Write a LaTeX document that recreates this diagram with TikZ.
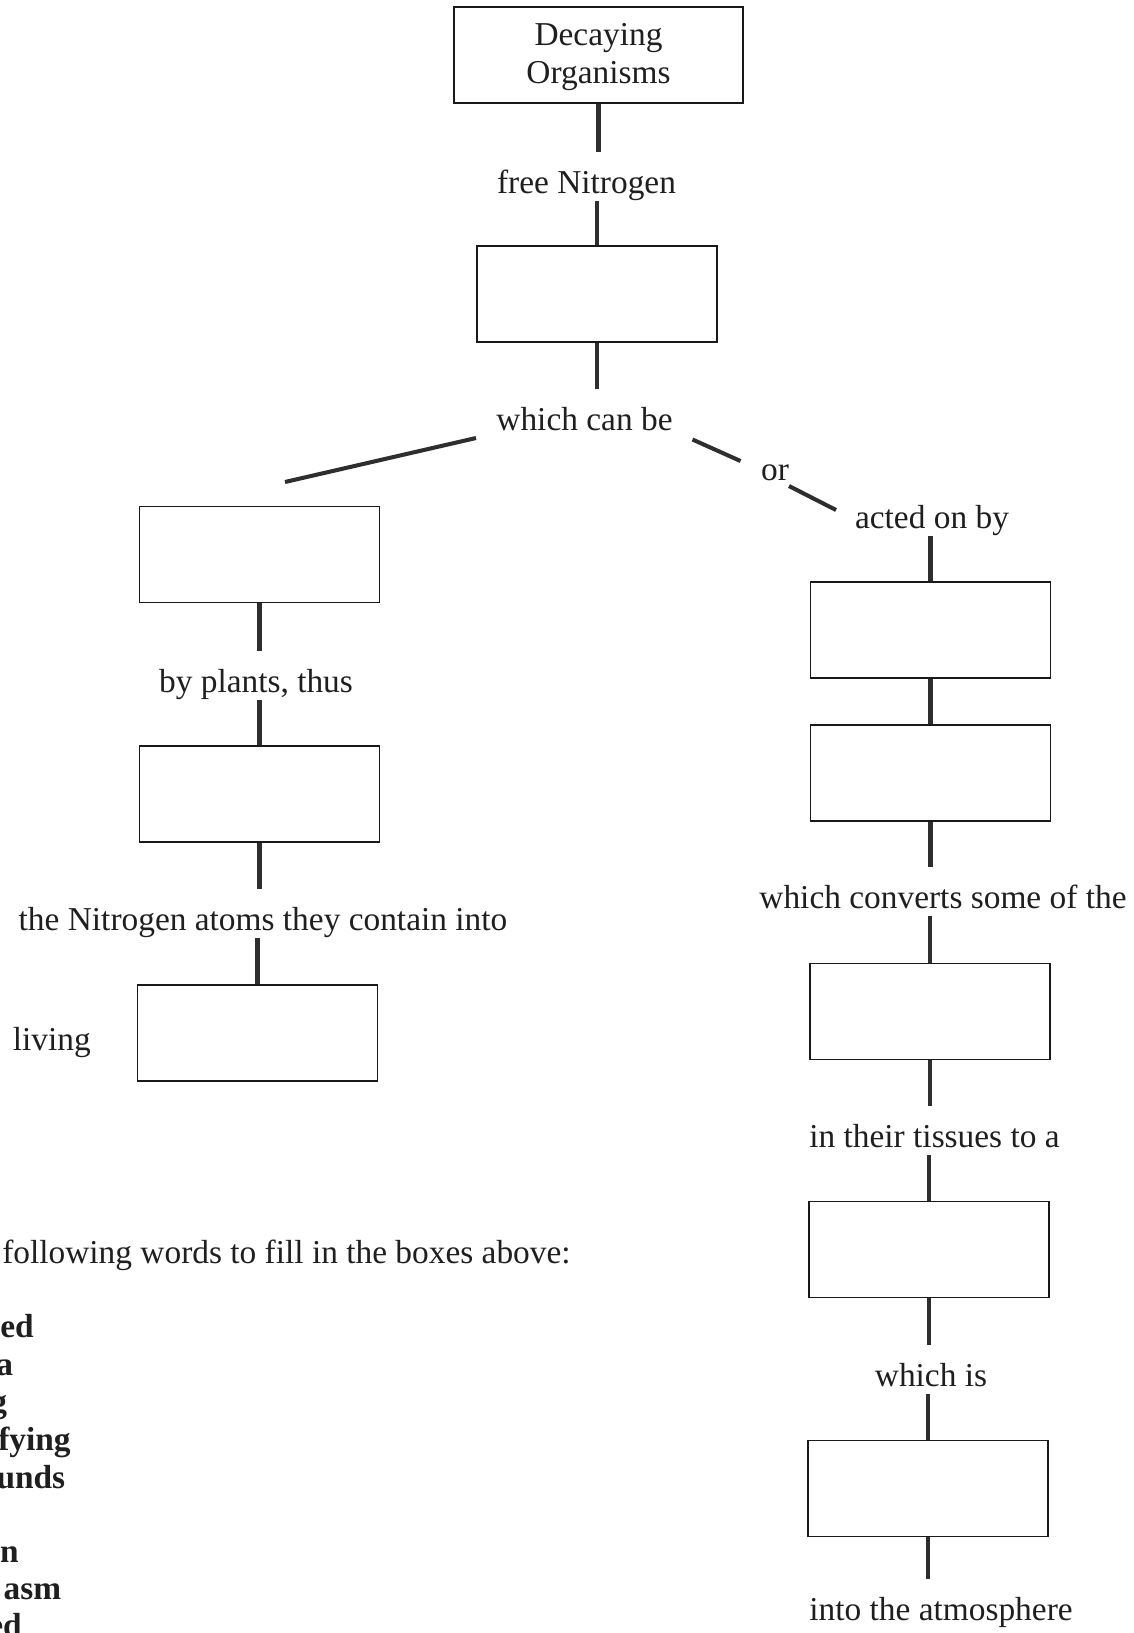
\documentclass[tikz,border=0pt]{standalone}
\usepackage{fontspec}
\setmainfont{Liberation Serif}

\tikzset{
  blank/.style={draw=black!90,line width=1.1pt,minimum width=4.8cm,minimum height=1.92cm,inner sep=0pt},
  lbl/.style={inner sep=0pt,anchor=base,text height=23.3pt,text depth=4.5pt},
  link/.style={draw=black!82,line width=2.3pt},
  word/.style={inner sep=0pt,anchor=base east,font=\fontsize{19}{21.2}\selectfont\bfseries}
}

\begin{document}
\begin{tikzpicture}[x=0.02cm,y=-0.02cm,font=\fontsize{19}{21.2}\selectfont,text=black!88]
\path[use as bounding box,fill=white] (0,0) rectangle (1133,1633);
\node[blank,minimum width=5.78cm,align=center,text height=31.9pt,text depth=0pt] (decay) at (598.5,55) {Decaying\\Organisms};
\node[lbl] (free) at (586.5,193) {free Nitrogen};
\node[blank] (fix) at (597,294) {};
\node[lbl] (can) at (584.5,430) {which can be};
\node[lbl] (or) at (775,480) {or};
\node[lbl] (acted) at (932,528) {acted on by};
\node[blank] (L1) at (259.5,554.5) {};
\node[lbl] (plants) at (256,692) {by plants, thus};
\node[blank] (L2) at (259.5,794) {};
\node[lbl] (atoms) at (263,930) {the Nitrogen atoms they contain into};
\node[blank] (L3) at (257.5,1033) {};
\node[lbl,anchor=base west] (living) at (12.5,1050) {living};
\node[blank] (R1) at (930.5,630) {};
\node[blank] (R2) at (930.5,773) {};
\node[lbl] (conv) at (943,908) {which converts some of the};
\node[blank] (R3) at (930,1011.5) {};
\node[lbl] (tiss) at (934.5,1147) {in their tissues to a};
\node[blank] (R4) at (929,1249.5) {};
\node[lbl] (whichis) at (931,1386) {which is};
\node[blank] (R5) at (928,1488.5) {};
\node[lbl] (atmos) at (941,1620) {into the atmosphere};
\coordinate (canL) at (476,438);
\coordinate (leftend) at (285,482);
\coordinate (canR) at (692.5,439.5);
\coordinate (orL) at (740.5,461);
\coordinate (orR) at (789,486);
\coordinate (actedL) at (836,510);
\draw[link] (decay.south) -- (decay.south |- free.north);
\draw[link] (fix.north |- free.south) -- (fix.north);
\draw[link] (fix.south) -- (fix.south |- can.north);
\draw[link] (canL) -- (leftend);
\draw[link] (canR) -- (orL);
\draw[link] (orR) -- (actedL);
\draw[link] (R1.north |- acted.south) -- (R1.north);
\draw[link] (R1.south) -- (R2.north);
\draw[link] (R2.south) -- (R2.south |- conv.north);
\draw[link] (R3.north |- conv.south) -- (R3.north);
\draw[link] (R3.south) -- (R3.south |- tiss.north);
\draw[link] (R4.north |- tiss.south) -- (R4.north);
\draw[link] (R4.south) -- (R4.south |- whichis.north);
\draw[link] (R5.north |- whichis.south) -- (R5.north);
\draw[link] (R5.south) -- (R5.south |- atmos.north);
\draw[link] (L1.south) -- (L1.south |- plants.north);
\draw[link] (L2.north |- plants.south) -- (L2.north);
\draw[link] (L2.south) -- (L2.south |- atoms.north);
\draw[link] (L3.north |- atoms.south) -- (L3.north);
\node[inner sep=0pt,anchor=base east] (use) at (571,1263) {following words to fill in the boxes above:};
\foreach \w/\x/\y [count=\i] in {ed/34/1337,a/13.5/1375,g/7.3/1412,fying/71/1450,unds/65.6/1488,n/19/1562,asm/61.5/1599,ed/22/1636}
  \node[word] (w\i) at (\x,\y) {\w};
\end{tikzpicture}
\end{document}
